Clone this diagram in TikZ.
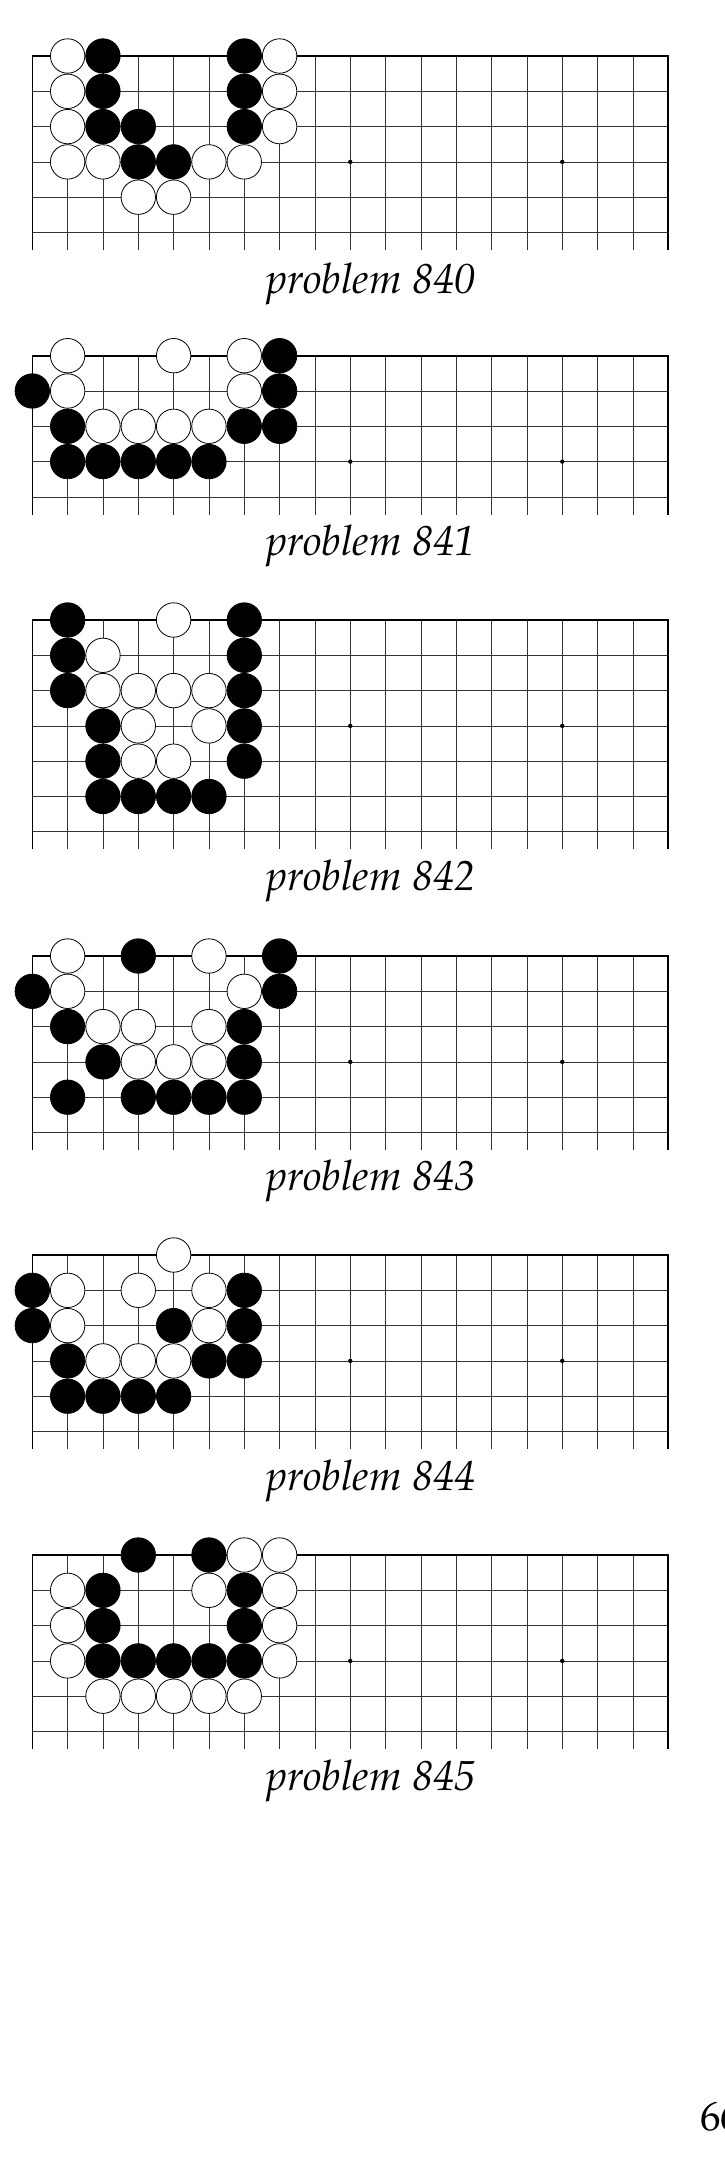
\documentclass[tikz,border=0pt]{standalone}
\usepackage[T1]{fontenc}
\newcommand\palit{\fontencoding{T1}\fontfamily{ppl}\fontseries{m}\fontshape{it}\fontsize{42}{50}\selectfont}
\newcommand\palup{\fontencoding{T1}\fontfamily{ppl}\fontseries{m}\fontshape{n}\fontsize{41}{49}\selectfont}
\tikzset{
  gridline/.style={draw=black!80, line width=0.8pt},
  edgeline/.style={draw=black, line width=1.6pt, line join=miter},
  wstone/.style={circle, draw=black, fill=white, line width=0.8pt, minimum size=34.4pt, inner sep=0pt},
  bstone/.style={circle, draw=black, fill=black, line width=0.8pt, minimum size=34.4pt, inner sep=0pt},
  problabel/.style={anchor=base, inner sep=0pt, font=\palit},
}
\newcommand\goboard[7]{%
  \begin{scope}[shift={(0,#1)}]
    \pgfmathsetmacro\gbot{(#2-0.5)*35.3}
    \foreach \i in {2,...,18}
      \draw[gridline] ({32.3+(\i-1)*35.33},0) -- ({32.3+(\i-1)*35.33},\gbot);
    \foreach \j in {2,...,#2}
      \draw[gridline] (32.3,{(\j-1)*35.3}) -- (668.2,{(\j-1)*35.3});
    \draw[edgeline] (32.3,\gbot) -- (32.3,0) -- (668.2,0) -- (668.2,\gbot);
    \fill ({32.3+9*35.33},{3*35.3}) circle (2.2pt);
    \fill ({32.3+15*35.33},{3*35.3}) circle (2.2pt);
    \foreach \c/\r in {#4}
      \node[wstone] (#3w\c-\r) at ({32.3+(\c-1)*35.33},{(\r-1)*35.3}) {};
    \foreach \c/\r in {#5}
      \node[bstone] (#3b\c-\r) at ({32.3+(\c-1)*35.33},{(\r-1)*35.3}) {};
  \end{scope}
  \node[problabel] (#3label) at (371,#7) {problem #6};
}
\begin{document}
\begin{tikzpicture}[x=1pt,y=-1pt]
\fill[white] (0,0) rectangle (724,2181);
\useasboundingbox (0,0) rectangle (724,2181);

\goboard{56}{6}{pa}
  {2/1,8/1,2/2,8/2,2/3,8/3,2/4,3/4,6/4,7/4,4/5,5/5}
  {3/1,7/1,3/2,7/2,3/3,4/3,7/3,4/4,5/4}
  {840}{293}

\goboard{355.7}{5}{pb}
  {2/1,5/1,7/1,2/2,7/2,3/3,4/3,5/3,6/3}
  {8/1,1/2,8/2,2/3,7/3,8/3,2/4,3/4,4/4,5/4,6/4}
  {841}{555}

\goboard{620}{7}{pc}
  {5/1,3/2,3/3,4/3,5/3,6/3,4/4,6/4,4/5,5/5}
  {2/1,7/1,2/2,7/2,2/3,7/3,3/4,7/4,3/5,7/5,3/6,4/6,5/6,6/6}
  {842}{890}

\goboard{956}{6}{pd}
  {2/1,6/1,2/2,7/2,3/3,4/3,6/3,4/4,5/4,6/4}
  {4/1,8/1,1/2,8/2,2/3,7/3,3/4,7/4,2/5,4/5,5/5,6/5,7/5}
  {843}{1190}

\goboard{1255}{6}{pe}
  {5/1,2/2,4/2,6/2,2/3,6/3,3/4,4/4,5/4}
  {1/2,7/2,1/3,5/3,7/3,2/4,6/4,7/4,2/5,3/5,4/5,5/5}
  {844}{1490}

\goboard{1555}{6}{pf}
  {7/1,8/1,2/2,6/2,8/2,2/3,8/3,2/4,8/4,3/5,4/5,5/5,6/5,7/5}
  {4/1,6/1,3/2,7/2,3/3,7/3,3/4,4/4,5/4,6/4,7/4}
  {845}{1790}

\node[anchor=base west, inner sep=0pt, font=\palup] (pagenum) at (700,2130) {66};
\end{tikzpicture}
\end{document}
